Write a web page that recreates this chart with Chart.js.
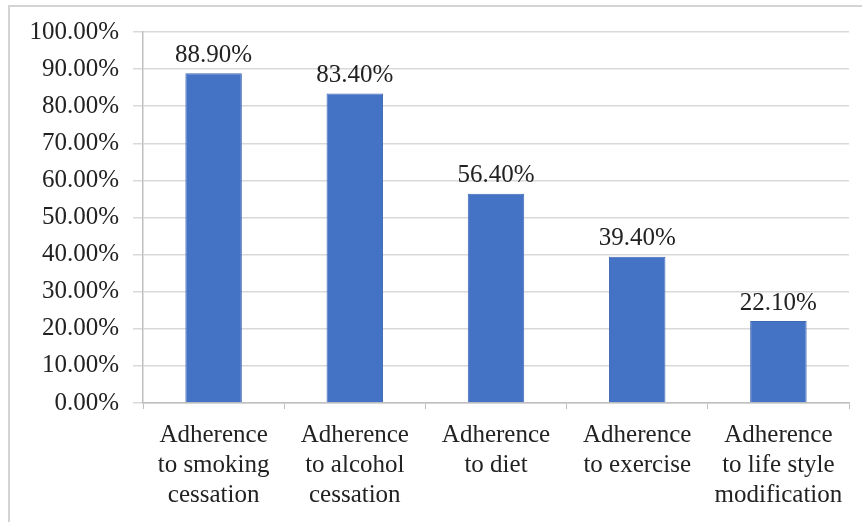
<!DOCTYPE html>
<html>
<head>
<meta charset="utf-8">
<script src="https://cdn.jsdelivr.net/npm/chart.js@4/dist/chart.umd.min.js"></script>
<style>
  html, body { margin: 0; padding: 0; background: #fff; }
  #wrap { position: relative; width: 862px; height: 522px; }
  #frame { position: absolute; left: 8px; top: 5px; right: 0; bottom: 0;
           border-top: 2px solid #d4d4d4; border-left: 2px solid #d4d4d4; }
  canvas { position: absolute; left: 0; top: 0; }
</style>
</head>
<body>
<div id="wrap">
  <div id="frame"></div>
  <canvas id="adherenceChart" width="862" height="522"></canvas>
</div>
<script>
const categories = [
    ["Adherence", "to smoking", "cessation"],
    ["Adherence", "to alcohol", "cessation"],
    ["Adherence", "to diet"],
    ["Adherence", "to exercise"],
    ["Adherence", "to life style", "modification"]
];
const adherencePct = [88.9, 83.4, 56.4, 39.4, 22.1];
const yTicks = [0, 10, 20, 30, 40, 50, 60, 70, 80, 90, 100];

const serif = "'Liberation Serif', 'Times New Roman', serif";
const textColor = "#222222";

// draws the value above each bar
const barLabels = {
    id: 'barLabels',
    afterDatasetsDraw(chart) {
        const ctx = chart.ctx;
        ctx.save();
        ctx.font = `25px ${serif}`;
        ctx.fillStyle = textColor;
        ctx.textAlign = 'center';
        ctx.textBaseline = 'middle';
        chart.getDatasetMeta(0).data.forEach((bar, i) => {
            ctx.fillText(adherencePct[i].toFixed(2) + '%', bar.x, bar.y - 18);
        });
        ctx.restore();
    }
};

new Chart(document.getElementById("adherenceChart").getContext("2d"), {
    type: 'bar',
    data: {
        labels: categories,
        datasets: [{
            data: adherencePct,
            backgroundColor: '#4472C4',
            borderColor: '#3f69b5',
            borderWidth: 1,
            barPercentage: 0.4,
            categoryPercentage: 1.0
        }]
    },
    options: {
        responsive: false,
        animation: false,
        layout: { padding: { top: 32, right: 13, left: 0, bottom: 0 } },
        plugins: {
            legend: { display: false },
            tooltip: { enabled: false }
        },
        scales: {
            x: {
                grid: { drawOnChartArea: false, color: '#bfbfbf', tickLength: 6, offset: true },
                border: { color: '#bfbfbf', width: 1.5 },
                ticks: {
                    font: { family: serif, size: 25, lineHeight: 1.2 },
                    color: textColor,
                    maxRotation: 0,
                    autoSkip: false,
                    padding: 11
                },
                afterFit: s => { s.height = 522 - 403; }
            },
            y: {
                min: 0,
                max: 100,
                afterBuildTicks: s => { s.ticks = yTicks.map(v => ({ value: v })); },
                grid: { color: '#d9d9d9', tickLength: 10, lineWidth: 1.5 },
                border: { color: '#bfbfbf', width: 1.5 },
                ticks: {
                    font: { family: serif, size: 25 },
                    color: textColor,
                    padding: 14,
                    callback: v => v.toFixed(2) + '%'
                },
                afterFit: s => { s.width = 143; }
            }
        }
    },
    plugins: [barLabels]
});
</script>
</body>
</html>
